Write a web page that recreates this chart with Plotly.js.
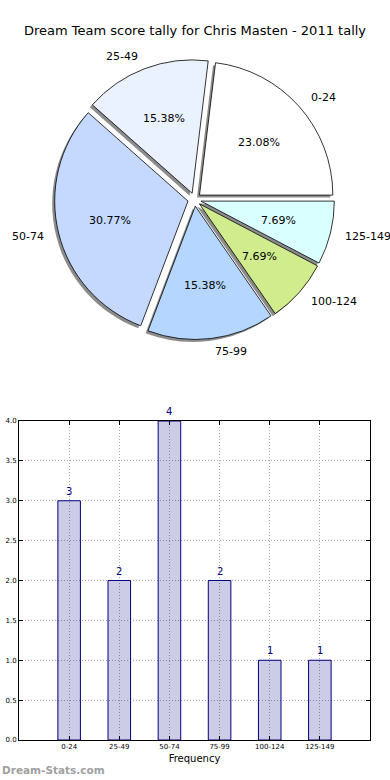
<!DOCTYPE html>
<html>
<head>
<meta charset="utf-8">
<script src="https://cdn.plot.ly/plotly-3.0.1.min.js"></script>
<style>html,body{margin:0;padding:0;background:#fff}#chart{width:390px;height:780px}</style>
</head>
<body>
<div id="chart"></div>
<script>
// ---- data ----
var categories = ['0-24', '25-49', '50-74', '75-99', '100-124', '125-149'];
var counts = [3, 2, 4, 2, 1, 1];
var sliceColors = ['#ffffff', '#ebf2ff', '#c5d9ff', '#b5d7ff', '#d0ec8c', '#d9ffff'];
var yTickVals = [0, 0.5, 1, 1.5, 2, 2.5, 3, 3.5, 4];
var chartTitle = 'Dream Team score tally for Chris Masten - 2011 tally';
var xTitle = 'Frequency';
var watermark = 'Dream-Stats.com';

// ---- geometry (page pixels) ----
var W = 390, H = 780;
var FONT = 'DejaVu Sans, sans-serif';
var pieCx = 194.5, pieCy = 199.5, pieReach = 140, pull = 0.05;
var pieR = pieReach / (1 + pull);
var shadowDx = -2.5, shadowDy = 2.5;

function dom(cx, cy, r) {
  return {x: [(cx - r) / W, (cx + r) / W], y: [1 - (cy + r) / H, 1 - (cy - r) / H]};
}

var total = counts.reduce(function (a, b) { return a + b; }, 0);
var pulls = counts.map(function () { return pull; });
// first slice starts at 3 o'clock and the pie runs counter-clockwise
var pieRotation = 90 - counts[0] / total * 360;

var shadowPie = {
  type: 'pie', values: counts, labels: categories, sort: false,
  direction: 'counterclockwise', rotation: pieRotation, pull: pulls,
  marker: {colors: counts.map(function () { return 'rgba(0,0,0,0.45)'; }), line: {width: 0}},
  textinfo: 'none', hoverinfo: 'skip', showlegend: false,
  domain: dom(pieCx + shadowDx, pieCy + shadowDy, pieReach)
};
var mainPie = {
  type: 'pie', values: counts, labels: categories, sort: false,
  direction: 'counterclockwise', rotation: pieRotation, pull: pulls,
  marker: {colors: sliceColors, line: {color: '#000000', width: 0.8}},
  textinfo: 'none', showlegend: false,
  domain: dom(pieCx, pieCy, pieReach)
};

var bars = {
  type: 'bar', x: categories, y: counts, width: 0.45,
  marker: {color: 'rgba(0,0,128,0.2)', line: {color: '#000080', width: 1}},
  xaxis: 'x', yaxis: 'y', showlegend: false
};

// ---- annotations derived from data ----
var annotations = [];
var cum = 0;
counts.forEach(function (v, i) {
  var frac = v / total;
  var mid = (cum + frac / 2) * 2 * Math.PI;
  cum += frac;
  var c = Math.cos(mid), s = Math.sin(mid);
  var off = pull * pieR;
  var lr = 1.1 * pieR + off;
  annotations.push({
    xref: 'paper', yref: 'paper', showarrow: false,
    x: (pieCx + lr * c) / W, y: 1 - (pieCy - lr * s) / H,
    xanchor: c >= 0 ? 'left' : 'right', yanchor: 'middle',
    text: categories[i], font: {family: FONT, size: 11, color: '#000'}
  });
  var pr = 0.6 * pieR + off;
  annotations.push({
    xref: 'paper', yref: 'paper', showarrow: false,
    x: (pieCx + pr * c) / W, y: 1 - (pieCy - pr * s) / H,
    xanchor: 'center', yanchor: 'middle',
    text: (frac * 100).toFixed(2) + '%', font: {family: FONT, size: 11, color: '#000'}
  });
  annotations.push({
    xref: 'x', yref: 'y', x: categories[i], y: v, showarrow: false,
    xanchor: 'center', yanchor: 'bottom', yshift: 2,
    text: String(v), font: {family: FONT, size: 10, color: '#000080'}
  });
});
annotations.push({
  xref: 'paper', yref: 'paper', x: 0, y: 10 / H, xanchor: 'left', yanchor: 'middle',
  showarrow: false, text: '<b>' + watermark + '</b>',
  font: {family: FONT, size: 10.5, color: '#a0a0a0'}
});

var layout = {
  width: W, height: H,
  margin: {l: 0, r: 0, t: 0, b: 0},
  paper_bgcolor: '#ffffff', plot_bgcolor: '#ffffff',
  font: {family: FONT, color: '#000'},
  title: {text: chartTitle, x: 0.5, xanchor: 'center', y: 1 - 30 / H, yanchor: 'middle',
          font: {family: FONT, size: 13, color: '#000'}},
  xaxis: {
    domain: [19 / W, 370 / W], anchor: 'y', type: 'category', range: [-1, 6],
    showline: true, linecolor: '#000', linewidth: 1, mirror: 'ticks',
    ticks: 'inside', ticklen: 4, tickcolor: '#000',
    showgrid: true, gridcolor: '#a8a8a8', griddash: '1px,2px', gridwidth: 1,
    tickfont: {family: FONT, size: 7, color: '#000'},
    title: {text: xTitle, standoff: 4, font: {family: FONT, size: 10, color: '#000'}},
    zeroline: false, fixedrange: true
  },
  yaxis: {
    domain: [1 - 740 / H, 1 - 421 / H], anchor: 'x', range: [0, 4],
    tickvals: yTickVals, tickformat: '.1f',
    showline: true, linecolor: '#000', linewidth: 1, mirror: 'ticks',
    ticks: 'inside', ticklen: 4, tickcolor: '#000',
    showgrid: true, gridcolor: '#a8a8a8', griddash: '1px,2px', gridwidth: 1,
    tickfont: {family: FONT, size: 7, color: '#000'},
    zeroline: false, fixedrange: true
  },
  annotations: annotations
};

Plotly.newPlot('chart', [shadowPie, mainPie, bars], layout, {displayModeBar: false, staticPlot: true});
</script>
</body>
</html>
